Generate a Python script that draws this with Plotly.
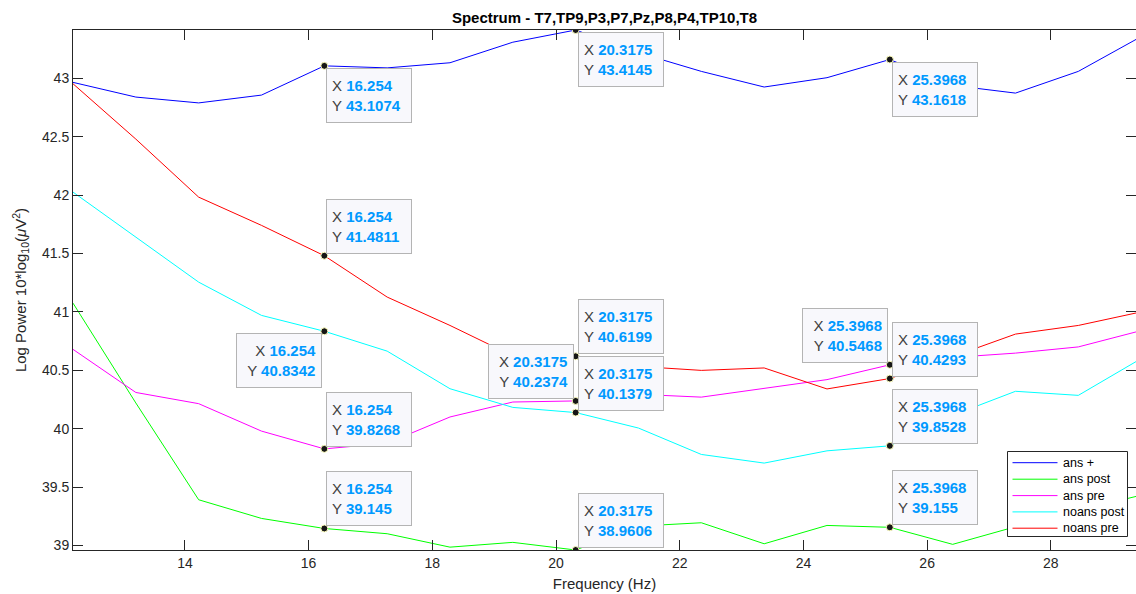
import plotly.graph_objects as go

# ---------------- data ----------------
freq = [12.1905, 13.2063, 14.2222, 15.2381, 16.2540, 17.2698, 18.2857, 19.3016, 20.3175,
        21.3333, 22.3492, 23.3651, 24.3810, 25.3968, 26.4127, 27.4286, 28.4444, 29.4603]

ans_plus = [42.966, 42.84, 42.79, 42.857, 43.1074, 43.09, 43.134, 43.31, 43.4145,
            43.22, 43.06, 42.926, 43.006, 43.1618, 42.94, 42.874, 43.06, 43.358]
ans_post = [41.075, 40.22, 39.391, 39.231, 39.145, 39.10, 38.985, 39.026, 38.9606,
            39.165, 39.194, 39.014, 39.171, 39.155, 39.009, 39.16, 39.30, 39.43]
ans_pre = [40.679, 40.31, 40.214, 39.979, 39.8268, 39.875, 40.10, 40.228, 40.2374,
           40.294, 40.27, 40.347, 40.42, 40.5468, 40.61, 40.647, 40.70, 40.84]
noans_post = [42.026, 41.64, 41.255, 40.97, 40.8342, 40.664, 40.342, 40.182, 40.1379,
              40.005, 39.779, 39.705, 39.81, 39.8528, 40.114, 40.32, 40.285, 40.60]
noans_pre = [42.954, 42.48, 41.983, 41.741, 41.4811, 41.127, 40.884, 40.623, 40.6199,
             40.533, 40.499, 40.52, 40.34, 40.4293, 40.617, 40.81, 40.884, 41.0]

series_names = ["ans +", "ans post", "ans pre", "noans post", "noans pre"]
series_values = [ans_plus, ans_post, ans_pre, noans_post, noans_pre]
series_colors = ["#0000ff", "#00ff00", "#ff00ff", "#00ffff", "#ff0000"]

# data tips: series index, point index, placement (r/l + b/t)
tip_series = [0, 4, 3, 2, 1, 0, 4, 2, 3, 1, 0, 2, 4, 3, 1]
tip_index = [4, 4, 4, 4, 4, 8, 8, 8, 8, 8, 13, 13, 13, 13, 13]
tip_side = ["rb", "rt", "lb", "rt", "rt", "rb", "rt", "lt", "rt", "rt", "rb", "lt", "rt", "rt", "rt"]

title_text = "Spectrum - T7,TP9,P3,P7,Pz,P8,P4,TP10,T8"
x_title = "Frequency (Hz)"
y_title = "Log Power 10*log<sub>10</sub>(<i>μ</i>V<sup>2</sup>)"

FONT = "Liberation Sans, Arial, Helvetica, sans-serif"
AX = "#262626"

# ---------------- layout geometry (pixels) ----------------
W, H = 1136, 594
ML, MR, MT, MB = 73, 0, 30, 44
PW, PH = W - ML - MR, H - MT - MB


def px_x(p):
    return (p - ML) / PW


def px_y(p):
    return (H - MB - p) / PH


fig = go.Figure()
for name, vals, col in zip(series_names, series_values, series_colors):
    fig.add_trace(go.Scatter(x=freq, y=vals, mode="lines", name=name, showlegend=False,
                             line=dict(color=col, width=1), hoverinfo="skip"))


def fmt(v):
    return f"{v:.4f}".rstrip("0").rstrip(".")


tx, ty = [], []
for si, pi, side in zip(tip_series, tip_index, tip_side):
    xv = freq[pi]
    yv = series_values[si][pi]
    tx.append(xv)
    ty.append(yv)
    val_style = "color:#0099ff;font-weight:bold"
    text = (f"X <span style='{val_style}'>{fmt(xv)}</span><br>"
            f"Y <span style='{val_style}'>{fmt(yv)}</span>")
    right = side[0] == "r"
    below = side[1] == "b"
    fig.add_annotation(
        x=xv, y=yv, xref="x", yref="y", text=text, showarrow=False,
        xanchor="left" if right else "right",
        yanchor="top" if below else "bottom",
        xshift=2 if right else -2, yshift=-2 if below else 2,
        align="left" if right else "right", valign="middle",
        width=74, height=43, borderpad=5, borderwidth=1,
        bordercolor="#b4b4b4", bgcolor="#f8f8fc",
        font=dict(family=FONT, size=15, color="#404040"),
    )

fig.add_trace(go.Scatter(x=tx, y=ty, mode="markers", showlegend=False, hoverinfo="skip",
                         marker=dict(size=7, color="#161616",
                                     line=dict(color="#ffffc0", width=1))))

# ---------------- legend box (MATLAB style) ----------------
lg_x0, lg_x1, lg_y0, lg_y1 = 1007.5, 1127.5, 451.5, 536.5
row_y = [462.7, 479.2, 495.6, 511.9, 528.2]
fig.add_shape(type="rect", xref="paper", yref="paper",
              x0=px_x(lg_x0), x1=px_x(lg_x1), y0=px_y(lg_y1), y1=px_y(lg_y0),
              line=dict(color=AX, width=1), fillcolor="white", layer="above")
for name, col, ry in zip(series_names, series_colors, row_y):
    fig.add_shape(type="line", xref="paper", yref="paper",
                  x0=px_x(1012.5), x1=px_x(1057.5), y0=px_y(ry), y1=px_y(ry),
                  line=dict(color=col, width=1), layer="above")
    fig.add_annotation(xref="paper", yref="paper", x=px_x(1061), y=px_y(ry),
                       xanchor="left", yanchor="middle", showarrow=False, text=name,
                       font=dict(family=FONT, size=12.5, color="#000000"))

fig.update_layout(
    width=W, height=H,
    margin=dict(l=ML, r=MR, t=MT, b=MB, autoexpand=False),
    paper_bgcolor="white", plot_bgcolor="white",
    font=dict(family=FONT, color=AX),
    title=dict(text=f"<b>{title_text}</b>", x=0.5, xref="paper", xanchor="center",
               y=1, yref="container", yanchor="top", pad=dict(t=12),
               font=dict(size=15, color="#000000")),
    showlegend=False,
    hovermode=False,
)
fig.update_xaxes(range=[12.1905, 29.377], dtick=2, tick0=0, automargin=False,
                 showline=True, linecolor=AX, linewidth=1, mirror="ticks",
                 ticks="inside", ticklen=10, tickcolor=AX, showgrid=False, zeroline=False,
                 tickfont=dict(size=14, color=AX),
                 title=dict(text=x_title, font=dict(size=15, color=AX), standoff=8))
fig.update_yaxes(range=[38.9606, 43.4145], dtick=0.5, tick0=0, automargin=False,
                 showline=True, linecolor=AX, linewidth=1, mirror="ticks",
                 ticks="inside", ticklen=10, tickcolor=AX, showgrid=False, zeroline=False,
                 tickfont=dict(size=14, color=AX),
                 title=dict(text=y_title, font=dict(size=15, color=AX), standoff=11))

fig.write_html("out.html",
               config={"displayModeBar": False, "staticPlot": True},
               post_script="document.body.style.margin='0';document.body.style.overflow='hidden';")
